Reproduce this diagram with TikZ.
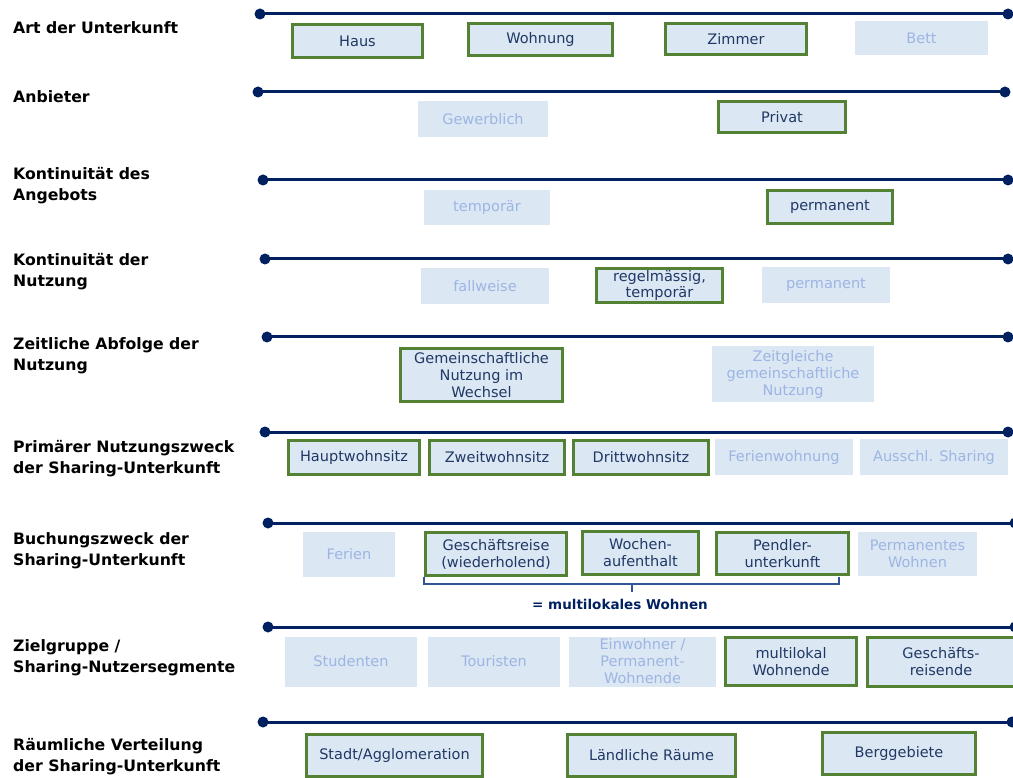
\documentclass[tikz,border=0pt]{standalone}
\usepackage{fontspec}
\setmainfont{DejaVu Sans}
\usetikzlibrary{positioning}

\definecolor{axisblue}{HTML}{002060}
\definecolor{selgreen}{HTML}{548235}
\definecolor{boxfill}{HTML}{DCE7F4}
\definecolor{boxtext}{HTML}{1F3864}
\definecolor{offtext}{HTML}{9CB5E2}
\definecolor{bracketblue}{HTML}{2F5597}

\newcommand{\optfont}{\fontsize{14.5}{17}\selectfont}
\newcommand{\critfont}{\fontsize{15.7}{21}\selectfont\bfseries}

\tikzset{
  axis/.style={line width=3pt, axisblue},
  dot/.style={circle, fill=axisblue, minimum size=11pt, inner sep=0pt},
  sel/.style={draw=selgreen, line width=3pt, fill=boxfill, text=boxtext,
              inner sep=0pt, align=center, font=\optfont},
  unsel/.style={fill=boxfill, text=offtext, inner sep=0pt, align=center,
                font=\optfont},
  crit/.style={anchor=west, align=left, inner sep=0pt, font=\critfont},
}

\begin{document}
\begin{tikzpicture}[x=1pt,y=-1pt]
  \useasboundingbox (0,0) rectangle (1013,778);

  % Draw the axes with end dots
  \foreach \n/\y/\xa/\xb in {1/14/260/1008, 2/92/258/1005, 3/180/263/1008,
      4/259/265/1008, 5/337/267/1008, 6/432/265/1008, 7/523/268/1015,
      8/627/268/1015, 9/722/263/1012}
  {
    \node[dot] (l\n) at (\xa,\y) {};
    \node[dot] (r\n) at (\xb,\y) {};
    \draw[axis] (l\n.center) -- (r\n.center);
  }

  % Criteria on the left
  \node[crit] (k1) at (13,28) {Art der Unterkunft};
  \node[crit] (k2) at (13,97) {Anbieter};
  \node[crit] (k3) at (13,186) {Kontinuität des\\Angebots};
  \node[crit] (k4) at (13,272) {Kontinuität der\\Nutzung};
  \node[crit] (k5) at (13,356) {Zeitliche Abfolge der\\Nutzung};
  \node[crit] (k6) at (13,459) {Primärer Nutzungszweck\\der Sharing-Unterkunft};
  \node[crit] (k7) at (13,551) {Buchungszweck der\\Sharing-Unterkunft};
  \node[crit] (k8) at (13,658) {Zielgruppe /\\Sharing-Nutzersegmente};
  \node[crit] (k9) at (13,757) {Räumliche Verteilung\\der Sharing-Unterkunft};

  % Art der Unterkunft
  \node[sel, minimum width=130, minimum height=33] (haus) at (357.5,41) {Haus};
  \node[sel, minimum width=144, minimum height=32] (wohnung) at (540.5,39.5) {Wohnung};
  \node[sel, minimum width=141, minimum height=31] (zimmer) at (736,39) {Zimmer};
  \node[unsel, minimum width=133, minimum height=34] (bett) at (921.5,38) {Bett};

  % Anbieter
  \node[unsel, minimum width=130, minimum height=36] (gewerblich) at (483,119) {Gewerblich};
  \node[sel, minimum width=127, minimum height=31] (privat) at (782,117) {Privat};

  % Kontinuitaet des Angebots
  \node[unsel, minimum width=126, minimum height=35] (temporaer) at (487,207.5) {temporär};
  \node[sel, minimum width=125, minimum height=33] (permA) at (830,207) {permanent};

  % Kontinuitaet der Nutzung
  \node[unsel, minimum width=128, minimum height=36] (fallweise) at (485,286) {fallweise};
  \node[sel, minimum width=126, minimum height=34] (regel) at (659.5,285.5) {regelmässig,\\temporär};
  \node[unsel, minimum width=128, minimum height=36] (permB) at (826,285) {permanent};

  % Zeitliche Abfolge
  \node[sel, minimum width=162, minimum height=53] (wechsel) at (481.5,375) {Gemeinschaftliche\\Nutzung im\\Wechsel};
  \node[unsel, minimum width=162, minimum height=56] (zeitgleich) at (793,374) {Zeitgleiche\\gemeinschaftliche\\Nutzung};

  % Primaerer Nutzungszweck
  \node[sel, minimum width=131, minimum height=34] (haupt) at (354,457.5) {Hauptwohnsitz};
  \node[sel, minimum width=135, minimum height=34] (zweit) at (497,457.5) {Zweitwohnsitz};
  \node[sel, minimum width=135, minimum height=34] (dritt) at (641,457.5) {Drittwohnsitz};
  \node[unsel, minimum width=138, minimum height=36] (ferienw) at (784,457) {Ferienwohnung};
  \node[unsel, minimum width=148, minimum height=36] (ausschl) at (934,457) {Ausschl. Sharing};

  % Buchungszweck
  \node[unsel, minimum width=92, minimum height=45] (ferien) at (349,554.5) {Ferien};
  \node[sel, minimum width=141, minimum height=43] (geschaeft) at (496,554) {Geschäftsreise\\(wiederholend)};
  \node[sel, minimum width=116, minimum height=43] (wochen) at (640.5,553) {Wochen-\\aufenthalt};
  \node[sel, minimum width=132, minimum height=42] (pendler) at (782.5,553.5) {Pendler-\\unterkunft};
  \node[unsel, minimum width=119, minimum height=44] (permwohnen) at (917.5,554) {Permanentes\\Wohnen};

  % Klammer multilokales Wohnen
  \draw[bracketblue, line width=1.5pt] (424,577) -- (424,584) -- (839,584) -- (839,577);
  \node[font=\fontsize{13.5}{16}\selectfont\bfseries, text=axisblue] (multi) at (620,604) {= multilokales Wohnen};
  \draw[bracketblue, line width=1.5pt] (632,584) -- (632,592);

  % Zielgruppe
  \node[unsel, minimum width=132, minimum height=50] (studenten) at (351,661.5) {Studenten};
  \node[unsel, minimum width=132, minimum height=50] (touristen) at (494,661.5) {Touristen};
  \node[unsel, minimum width=147, minimum height=50] (einwohner) at (642.5,661.5) {Einwohner /\\Permanent-\\Wohnende};
  \node[sel, minimum width=131, minimum height=48] (multilokal) at (791,661.5) {multilokal\\Wohnende};
  \node[sel, minimum width=148, minimum height=49] (reisende) at (941,662) {Geschäfts-\\reisende};

  % Raeumliche Verteilung
  \node[sel, minimum width=176, minimum height=42] (stadt) at (394.5,755.5) {Stadt/Agglomeration};
  \node[sel, minimum width=168, minimum height=42] (land) at (651.5,755.5) {Ländliche Räume};
  \node[sel, minimum width=153, minimum height=42] (berg) at (899,753.5) {Berggebiete};
\end{tikzpicture}
\end{document}
